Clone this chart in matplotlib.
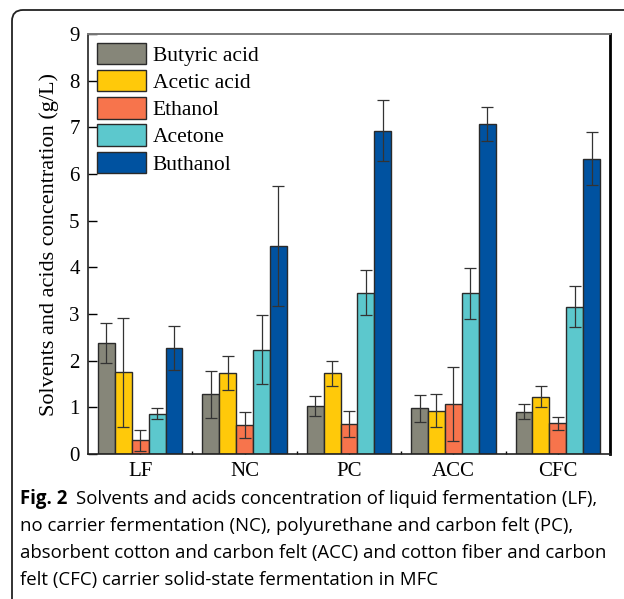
import numpy as np
import matplotlib
matplotlib.use("Agg")
import matplotlib.pyplot as plt
from matplotlib.patches import FancyBboxPatch
from matplotlib.transforms import IdentityTransform

# ==========================================
# データ
# ==========================================

groups = ["LF", "NC", "PC", "ACC", "CFC"]
series = ["Butyric acid", "Acetic acid", "Ethanol", "Acetone", "Buthanol"]

butyric = [2.37, 1.28, 1.03, 0.98, 0.91]
butyric_err = [0.43, 0.50, 0.22, 0.29, 0.16]

acetic = [1.75, 1.73, 1.73, 0.93, 1.23]
acetic_err = [1.17, 0.36, 0.27, 0.35, 0.22]

ethanol = [0.29, 0.62, 0.64, 1.07, 0.66]
ethanol_err = [0.22, 0.27, 0.28, 0.80, 0.14]

acetone = [0.86, 2.23, 3.46, 3.44, 3.16]
acetone_err = [0.12, 0.74, 0.49, 0.55, 0.44]

buthanol = [2.27, 4.46, 6.93, 7.07, 6.33]
buthanol_err = [0.47, 1.28, 0.66, 0.37, 0.57]

colors = ["#868679", "#FFC90A", "#F7744C", "#5CC8CD", "#0052A0"]

caption_lines = [
    "Solvents and acids concentration of liquid fermentation (LF),",
    "no carrier fermentation (NC), polyurethane and carbon felt (PC),",
    "absorbent cotton and carbon felt (ACC) and cotton fiber and carbon",
    "felt (CFC) carrier solid-state fermentation in MFC",
]

# ==========================================
# 設定
# ==========================================

W, H = 624, 599
DPI = 100
BAR_W = 0.162
SERIF = "Liberation Serif"
SANS = "Open Sans"

plt.rcParams["font.family"] = SERIF

fig = plt.figure(figsize=(W / DPI, H / DPI), dpi=DPI)
ax = fig.add_axes([88 / W, 1 - 454 / H, (610 - 88) / W, (454 - 34) / H])

values = [butyric, acetic, ethanol, acetone, buthanol]
errors = [butyric_err, acetic_err, ethanol_err, acetone_err, buthanol_err]

x = np.arange(len(groups))

# ==========================================
# 棒グラフ
# ==========================================

for i, (vals, errs) in enumerate(zip(values, errors)):
    offs = (i - 2) * BAR_W
    ax.bar(
        x + offs, vals, BAR_W,
        color=colors[i], edgecolor="#2a2a2a", linewidth=1.0,
        label=series[i], zorder=2,
    )
    ax.errorbar(
        x + offs, vals, yerr=errs,
        fmt="none", ecolor="#333333", elinewidth=0.9,
        capsize=4, capthick=0.9, zorder=3,
    )

ax.set_xlim(-0.5, 4.5)
ax.set_ylim(0, 9)
ax.set_yticks(range(0, 10))
ax.set_xticks(x)
ax.set_xticklabels(groups)
ax.set_xticks(np.arange(0.5, 4.5, 1.0), minor=True)

ax.tick_params(axis="y", direction="in", length=6.5, width=1.0, labelsize=15, pad=6)
ax.tick_params(axis="x", which="major", direction="in", length=4, width=1.0,
               labelsize=15, pad=6)
ax.tick_params(axis="x", which="minor", direction="in", length=2.5, width=1.0)

ax.set_ylabel("Solvents and acids concentration (g/L)", fontsize=16, labelpad=7)

ax.spines["top"].set_color("#777777")
ax.spines["top"].set_linewidth(1.4)
ax.spines["right"].set_color("#000000")
ax.spines["right"].set_linewidth(2.0)
ax.spines["left"].set_color("#222222")
ax.spines["left"].set_linewidth(1.2)
ax.spines["bottom"].set_color("#222222")
ax.spines["bottom"].set_linewidth(1.2)

# ==========================================
# 凡例
# ==========================================

ax.legend(
    loc="upper left", bbox_to_anchor=(0.0, 1.0),
    frameon=False, fontsize=15.5,
    handlelength=2.3, handleheight=1.15,
    labelspacing=0.2, handletextpad=0.3,
    borderaxespad=0.4, borderpad=0.0,
)

# ==========================================
# 枠とキャプション
# ==========================================

box = FancyBboxPatch(
    (12, -30), 700, H - 10 + 30,
    boxstyle="round,pad=0,rounding_size=11",
    transform=IdentityTransform(),
    facecolor="none", edgecolor="#222222", linewidth=1.3,
    clip_on=False,
)
fig.patches.append(box)

CAP_SIZE = 13.4
CAP_X = 20 / W
line_y = [499, 526, 553, 580]

renderer = fig.canvas.get_renderer()

fig_lbl = fig.text(CAP_X, 1 - line_y[0] / H, "Fig. 2", family=SANS,
                   fontweight="bold", fontsize=CAP_SIZE, va="center", ha="left")
bb = fig_lbl.get_window_extent(renderer=renderer)
fig.text((bb.x1 + 9) / W, 1 - line_y[0] / H, caption_lines[0], family=SANS,
         fontsize=CAP_SIZE, va="center", ha="left")

for ln, yy in zip(caption_lines[1:], line_y[1:]):
    fig.text(CAP_X, 1 - yy / H, ln, family=SANS,
             fontsize=CAP_SIZE, va="center", ha="left")

fig.savefig("out.png", dpi=DPI)
